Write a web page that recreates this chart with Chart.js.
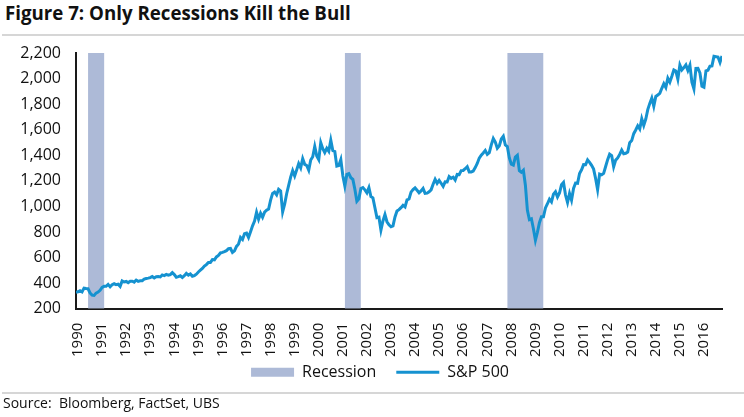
<!DOCTYPE html>
<html>
<head>
<meta charset="utf-8">
<script src="https://cdn.jsdelivr.net/npm/chart.js@4"></script>
<style>
  html, body { margin: 0; padding: 0; background: #fff; }
  body { width: 744px; height: 417px; position: relative; overflow: hidden; font-family: "Open Sans", sans-serif; color: #111; }
  #title { position: absolute; left: 5px; top: 0px; font-size: 18.7px; font-weight: bold; white-space: nowrap; }
  .rule { position: absolute; left: 2px; right: 0; height: 2px; background: #d6d6d6; }
  #wrap { position: absolute; left: 0; top: 38px; width: 744px; height: 379px; }
  #source { position: absolute; left: 3px; top: 393px; font-size: 14px; white-space: nowrap; }
</style>
</head>
<body>
<div id="title">Figure 7: Only Recessions Kill the Bull</div>
<div class="rule" style="top:34px"></div>
<div id="wrap"><canvas id="chart"></canvas></div>
<div class="rule" style="top:392px"></div>
<div id="source">Source:&nbsp; Bloomberg, FactSet, UBS</div>
<script>
(() => {
  //─── DATA ────────────────────────────────────────────────────────────────────
  const startYear = 1990;
  // S&P 500 month-end levels, Jan 1990 .. Nov 2016
  const spx = [
    329, 332, 340, 331, 361, 358, 356, 323, 306, 304, 322, 330,
    344, 367, 375, 375, 390, 371, 388, 395, 388, 392, 375, 417,
    409, 413, 404, 415, 415, 408, 424, 414, 418, 419, 431, 436,
    439, 443, 452, 440, 450, 451, 448, 464, 459, 468, 462, 467,
    482, 467, 446, 451, 457, 444, 458, 476, 463, 472, 454, 459,
    470, 487, 501, 515, 533, 545, 562, 562, 584, 582, 605, 616,
    636, 640, 646, 654, 669, 671, 640, 652, 687, 705, 757, 741,
    786, 791, 757, 801, 848, 885, 954, 900, 947, 915, 955, 970,
    980, 1049, 1102, 1112, 1091, 1134, 1121, 957, 1017, 1099, 1164, 1229,
    1280, 1238, 1286, 1335, 1302, 1373, 1329, 1320, 1283, 1363, 1389, 1469,
    1395, 1366, 1499, 1452, 1421, 1455, 1431, 1518, 1437, 1429, 1315, 1320,
    1366, 1240, 1160, 1250, 1256, 1224, 1211, 1134, 1041, 1060, 1140, 1148,
    1130, 1107, 1147, 1077, 1067, 990, 912, 916, 815, 886, 936, 880,
    856, 841, 848, 917, 964, 975, 990, 1008, 996, 1051, 1058, 1112,
    1131, 1145, 1126, 1107, 1121, 1141, 1102, 1104, 1115, 1130, 1174, 1212,
    1181, 1204, 1181, 1157, 1192, 1191, 1234, 1220, 1229, 1207, 1250, 1248,
    1280, 1281, 1295, 1311, 1270, 1270, 1277, 1304, 1336, 1378, 1401, 1418,
    1438, 1407, 1421, 1482, 1531, 1503, 1455, 1474, 1527, 1549, 1481, 1468,
    1379, 1331, 1323, 1386, 1400, 1280, 1267, 1283, 1166, 969, 896, 903,
    826, 735, 798, 873, 919, 919, 988, 1021, 1057, 1036, 1096, 1115,
    1074, 1105, 1169, 1187, 1089, 1031, 1102, 1049, 1141, 1183, 1181, 1258,
    1286, 1327, 1326, 1364, 1345, 1321, 1292, 1219, 1131, 1253, 1247, 1258,
    1312, 1366, 1409, 1398, 1310, 1362, 1379, 1407, 1441, 1412, 1416, 1426,
    1498, 1515, 1569, 1598, 1631, 1606, 1686, 1633, 1682, 1757, 1806, 1848,
    1783, 1860, 1872, 1884, 1924, 1960, 1931, 2003, 1972, 2018, 2068, 2059,
    1995, 2105, 2068, 2086, 2107, 2063, 2104, 1972, 1920, 2079, 2080, 2044,
    1940, 1932, 2060, 2065, 2097, 2099, 2174, 2171, 2168, 2126, 2176
  ];
  // NBER recessions (decimal years)
  const recStart = [1990.5, 2001.17, 2007.92];
  const recEnd   = [1991.17, 2001.83, 2009.42];
  const yTicks   = [200, 2200, 200];   // min, max, step

  const blue = '#1592d0';
  const recColor = '#adbad7';

  //─── SERIES ──────────────────────────────────────────────────────────────────
  const spxPts = spx.map((v, i) => ({ x: startYear + i / 12, y: v }));
  const recPts = [];
  recStart.forEach((s, i) => {
    recPts.push({ x: s, y: yTicks[0] }, { x: s, y: yTicks[1] },
                { x: recEnd[i], y: yTicks[1] }, { x: recEnd[i], y: yTicks[0] });
  });
  const xMax = spxPts[spxPts.length - 1].x;

  const tickFont = { family: '"Open Sans", sans-serif', size: 15 };

  // nudge the legend to where the original sits
  const legendShift = {
    id: 'legendShift',
    afterLayout(chart) {
      const lg = chart.legend;
      const dx = 19, dy = chart.chartArea.bottom + 63.5 - (lg.top + 20 + 8);
      lg.left += dx; lg.right += dx; lg.top += dy; lg.bottom += dy;
    }
  };

  new Chart(document.getElementById('chart'), {
    type: 'line',
    data: {
      datasets: [
        { label: 'S&P 500', data: spxPts, borderColor: blue, backgroundColor: blue,
          borderWidth: 3, pointRadius: 0, pointStyle: 'line', tension: 0, fill: false },
        { label: 'Recession', data: recPts, borderColor: 'transparent', borderWidth: 0,
          backgroundColor: recColor, pointRadius: 0, pointStyle: 'rect', tension: 0, fill: 'start' }
      ]
    },
    plugins: [legendShift],
    options: {
      responsive: true,
      maintainAspectRatio: false,
      animation: false,
      layout: { padding: { left: 0, right: 22, top: 15, bottom: 0 } },
      plugins: {
        tooltip: { enabled: false },
        legend: {
          position: 'bottom',
          labels: {
            usePointStyle: true, pointStyleWidth: 43, boxHeight: 9, padding: 20,
            color: '#111', font: { family: '"Open Sans", sans-serif', size: 16 },
            sort: (a, b) => b.datasetIndex - a.datasetIndex
          }
        }
      },
      scales: {
        x: {
          type: 'linear', min: startYear, max: xMax,
          grid: { display: false, drawTicks: false },
          border: { display: true, color: '#1a1a1a', width: 2 },
          afterBuildTicks: s => { s.ticks = s.ticks.filter(t => Number.isInteger(t.value)); },
          ticks: { stepSize: 1, autoSkip: false, minRotation: 90, maxRotation: 90, padding: 14,
                   labelOffset: 2, color: '#111', font: tickFont, callback: v => String(v) }
        },
        y: {
          min: yTicks[0], max: yTicks[1],
          grid: { display: false, drawTicks: false },
          border: { display: true, color: '#1a1a1a', width: 2 },
          afterFit: s => { s.width = 76; s.paddingTop = 0; s.paddingBottom = 0; },
          ticks: { stepSize: yTicks[2], autoSkip: false, padding: 15, color: '#111',
                   font: { family: '"Open Sans", sans-serif', size: 16 },
                   callback: v => v.toLocaleString('en-US') }
        }
      }
    }
  });
})();
</script>
</body>
</html>
